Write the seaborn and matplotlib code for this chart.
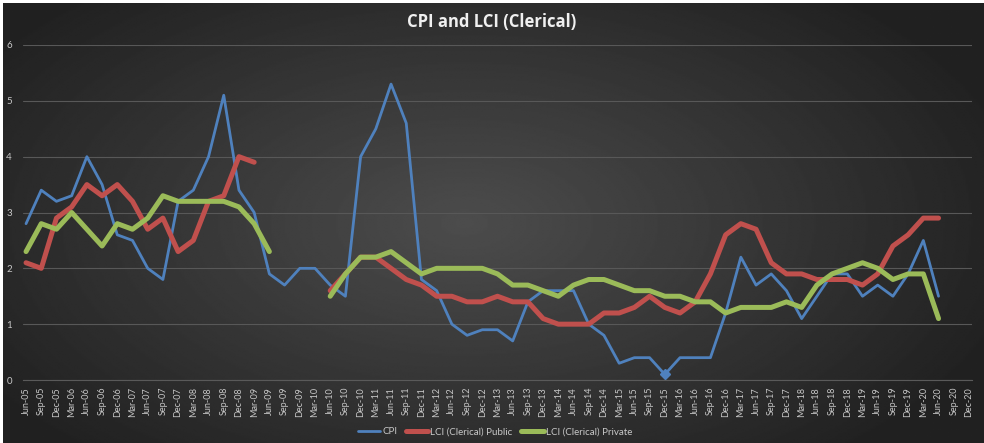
import numpy as np
import pandas as pd
import seaborn as sns
import matplotlib.pyplot as plt
from matplotlib.lines import Line2D

sns.set_style("dark")
plt.rcParams['font.family'] = ['Lato', 'DejaVu Sans']

nan = np.nan

quarters = ['Jun-05', 'Sep-05', 'Dec-05']
for yr in range(6, 21):
    quarters += [f'{m}-{yr:02d}' for m in ['Mar', 'Jun', 'Sep', 'Dec']]

cpi = [2.8, 3.4, 3.2, 3.3, 4.0, 3.5, 2.6, 2.5, 2.0, 1.8,
       3.2, 3.4, 4.0, 5.1, 3.4, 3.0, 1.9, 1.7, 2.0, 2.0,
       1.7, 1.5, 4.0, 4.5, 5.3, 4.6, 1.8, 1.6, 1.0, 0.8,
       0.9, 0.9, 0.7, 1.4, 1.6, 1.6, 1.6, 1.0, 0.8, 0.3,
       0.4, 0.4, 0.1, 0.4, 0.4, 0.4, 1.2, 2.2, 1.7, 1.9,
       1.6, 1.1, 1.5, 1.9, 1.9, 1.5, 1.7, 1.5, 1.9, 2.5,
       1.5, nan, nan]

lci_public = [2.1, 2.0, 2.9, 3.1, 3.5, 3.3, 3.5, 3.2, 2.7, 2.9,
              2.3, 2.5, 3.2, 3.3, 4.0, 3.9, nan, nan, nan, nan,
              1.6, 1.9, 2.2, 2.2, 2.0, 1.8, 1.7, 1.5, 1.5, 1.4,
              1.4, 1.5, 1.4, 1.4, 1.1, 1.0, 1.0, 1.0, 1.2, 1.2,
              1.3, 1.5, 1.3, 1.2, 1.4, 1.9, 2.6, 2.8, 2.7, 2.1,
              1.9, 1.9, 1.8, 1.8, 1.8, 1.7, 1.9, 2.4, 2.6, 2.9,
              2.9, nan, nan]

lci_private = [2.3, 2.8, 2.7, 3.0, 2.7, 2.4, 2.8, 2.7, 2.9, 3.3,
               3.2, 3.2, 3.2, 3.2, 3.1, 2.8, 2.3, nan, nan, nan,
               1.5, 1.9, 2.2, 2.2, 2.3, 2.1, 1.9, 2.0, 2.0, 2.0,
               2.0, 1.9, 1.7, 1.7, 1.6, 1.5, 1.7, 1.8, 1.8, 1.7,
               1.6, 1.6, 1.5, 1.5, 1.4, 1.4, 1.2, 1.3, 1.3, 1.3,
               1.4, 1.3, 1.7, 1.9, 2.0, 2.1, 2.0, 1.8, 1.9, 1.9,
               1.1, nan, nan]

series = {
    'CPI': (cpi, '#4f81bd', 2.0),
    'LCI (Clerical) Public': (lci_public, '#c0504d', 3.6),
    'LCI (Clerical) Private': (lci_private, '#9bbb59', 3.6),
}

df = pd.DataFrame({'idx': range(len(quarters)), 'quarter': quarters,
                   'CPI': cpi, 'LCI (Clerical) Public': lci_public,
                   'LCI (Clerical) Private': lci_private})

fig = plt.figure(figsize=(9.84, 4.43), dpi=100)
fig.patch.set_facecolor('white')

# radial gradient background
bg = fig.add_axes([0.003, 0, 0.997, 0.993])
yy, xx = np.mgrid[0:1:300j, 0:1:600j]
r = np.sqrt(((xx - 0.47) / 0.75) ** 2 + ((yy - 0.5) / 0.9) ** 2)
shade = np.clip(0.30 - 0.22 * r, 0.13, 0.30)
bg.imshow(shade, cmap='gray', vmin=0, vmax=1, aspect='auto',
          extent=[0, 1, 0, 1], interpolation='bilinear')
bg.axis('off')

ax = fig.add_axes([23 / 984, 1 - 380 / 443, 949 / 984, 335 / 443])
ax.patch.set_alpha(0)

for name, (vals, color, lw) in series.items():
    d = df[['idx', name]].copy()
    d['seg'] = d[name].isna().cumsum()
    d = d.dropna()
    for _, seg in d.groupby('seg'):
        sns.lineplot(data=seg, x='idx', y=name, ax=ax, color=color,
                     linewidth=lw, solid_capstyle='round',
                     solid_joinstyle='round', legend=False)

# highlighted point
ax.plot(42, 0.1, marker='D', ms=5, color='#4f81bd', mec='#4f81bd')

ax.set_xlim(-0.2, len(quarters) - 0.8)
ax.set_ylim(0, 6)
ax.set_xticks(range(len(quarters)))
ax.set_xticklabels(quarters, rotation=90, fontsize=6.5, color='#c8c8c8')
ax.set_yticks(range(0, 7))
ax.set_yticklabels([str(v) for v in range(0, 7)], fontsize=7, color='#c8c8c8')
ax.tick_params(axis='x', length=3, color='#5a5a5a', pad=2)
ax.tick_params(axis='y', length=0, pad=8)
ax.set_xlabel('')
ax.set_ylabel('')
ax.grid(axis='y', color='#585858', linewidth=0.8)
ax.grid(axis='x', visible=False)
for s in ['top', 'right', 'left']:
    ax.spines[s].set_visible(False)
ax.spines['bottom'].set_color('#5a5a5a')
ax.set_axisbelow(True)

fig.text(0.5, 0.95, 'CPI and LCI (Clerical)', ha='center', va='center',
         fontsize=12, fontweight='bold', color='#f0f0f0',
         family=['Open Sans', 'DejaVu Sans'])

handles = [Line2D([], [], color=c, linewidth=lw) for _, (v, c, lw) in series.items()]
fig.legend(handles, list(series.keys()), loc='center', bbox_to_anchor=(0.503, 0.025),
           ncol=3, frameon=False, fontsize=7, labelcolor='#c8c8c8',
           handlelength=2.3, handletextpad=0.2, columnspacing=0.9)

fig.savefig('out.png', dpi=100)
